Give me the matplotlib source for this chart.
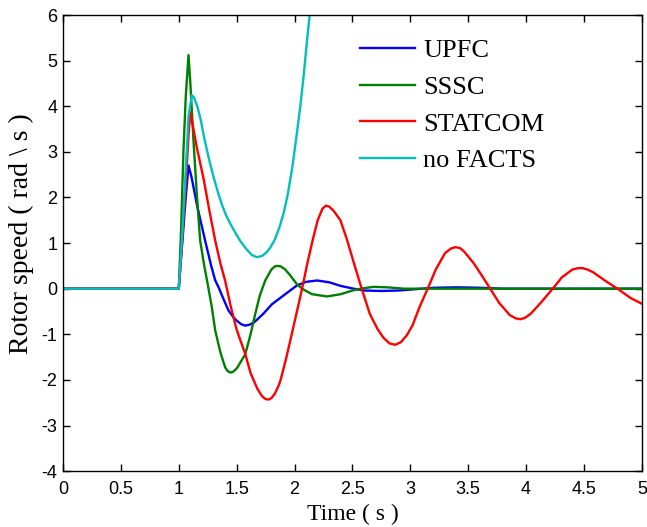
import matplotlib
matplotlib.use('Agg')
import matplotlib.pyplot as plt

plt.rcParams['axes.unicode_minus'] = False

# Rotor speed response
t_upfc = [0, 1.0, 1.03, 1.06, 1.084, 1.11, 1.16, 1.228, 1.28, 1.315, 1.344, 1.39,
          1.43, 1.47, 1.5, 1.54, 1.574, 1.61, 1.65, 1.73, 1.805, 1.92, 2.02, 2.1,
          2.195, 2.3, 2.4, 2.51, 2.6, 2.75, 2.9, 3.05, 3.2, 3.4, 3.6, 3.8, 5.0]
w_upfc = [0, 0, 1.0, 2.0, 2.70, 2.45, 1.8, 1.05, 0.5, 0.18, 0.03, -0.25,
          -0.48, -0.62, -0.70, -0.78, -0.81, -0.79, -0.74, -0.55, -0.34, -0.12, 0.07, 0.15,
          0.18, 0.14, 0.06, 0.0, -0.04, -0.05, -0.04, -0.01, 0.02, 0.03, 0.02, 0.0, 0.0]

t_sssc = [0, 1.0, 1.02, 1.04, 1.06, 1.084, 1.10, 1.127, 1.155, 1.185, 1.22, 1.25,
          1.285, 1.315, 1.36, 1.40, 1.42, 1.445, 1.47, 1.50, 1.574, 1.62, 1.66, 1.70,
          1.747, 1.80, 1.83, 1.85, 1.88, 1.92, 1.96, 2.02, 2.065, 2.15, 2.28, 2.40,
          2.50, 2.57, 2.68, 2.8, 2.95, 5.0]
w_sssc = [0, 0, 1.3, 3.0, 4.2, 5.12, 4.5, 3.25, 2.1, 1.05, 0.5, 0.1,
          -0.4, -0.92, -1.4, -1.72, -1.8, -1.84, -1.82, -1.75, -1.44, -1.0, -0.56, -0.15,
          0.18, 0.42, 0.49, 0.50, 0.49, 0.42, 0.30, 0.1, 0.0, -0.12, -0.17, -0.12,
          -0.04, 0.0, 0.04, 0.03, 0.0, 0.0]

t_statcom = [0, 1.0, 1.03, 1.06, 1.085, 1.10, 1.157, 1.215, 1.265, 1.315, 1.36, 1.40,
             1.45, 1.50, 1.574, 1.62, 1.68, 1.72, 1.75, 1.776, 1.80, 1.83, 1.86, 1.88,
             1.93, 1.98, 2.025, 2.065, 2.11, 2.16, 2.20, 2.24, 2.27, 2.30, 2.34, 2.396,
             2.45, 2.52, 2.58, 2.65, 2.72, 2.77, 2.82, 2.87, 2.92, 2.97, 3.02, 3.08,
             3.15, 3.22, 3.30, 3.35, 3.39, 3.43, 3.47, 3.55, 3.62, 3.69, 3.77, 3.86,
             3.91, 3.95, 3.99, 4.04, 4.13, 4.23, 4.31, 4.40, 4.45, 4.49, 4.53, 4.58,
             4.68, 4.79, 4.90, 5.0]
w_statcom = [0, 0, 1.1, 2.3, 3.4, 3.87, 3.08, 2.4, 1.7, 1.05, 0.55, 0.18,
             -0.4, -0.9, -1.43, -1.85, -2.2, -2.36, -2.42, -2.43, -2.4, -2.3, -2.14, -2.0,
             -1.5, -0.95, -0.45, 0.0, 0.55, 1.1, 1.5, 1.75, 1.82, 1.8, 1.7, 1.5,
             1.1, 0.5, 0.0, -0.55, -0.9, -1.08, -1.2, -1.23, -1.17, -1.02, -0.8, -0.4,
             0.0, 0.42, 0.78, 0.88, 0.91, 0.89, 0.8, 0.55, 0.28, 0.0, -0.32, -0.58,
             -0.65, -0.67, -0.64, -0.55, -0.3, 0.0, 0.25, 0.42, 0.45, 0.45, 0.42, 0.36,
             0.18, 0.0, -0.2, -0.33]

t_nofacts = [0, 1.0, 1.03, 1.06, 1.085, 1.113, 1.13, 1.16, 1.19, 1.22, 1.26, 1.30,
             1.34, 1.373, 1.41, 1.45, 1.49, 1.53, 1.58, 1.63, 1.675, 1.72, 1.76, 1.79,
             1.83, 1.87, 1.905, 1.94, 1.98, 2.02, 2.05, 2.08, 2.11, 2.135]
w_nofacts = [0, 0, 1.2, 2.6, 3.8, 4.24, 4.2, 4.0, 3.7, 3.3, 2.85, 2.45,
             2.1, 1.84, 1.6, 1.4, 1.22, 1.05, 0.88, 0.74, 0.69, 0.72, 0.8, 0.9,
             1.08, 1.35, 1.65, 2.05, 2.65, 3.4, 4.0, 4.7, 5.5, 6.1]

fig = plt.figure(figsize=(6.47, 5.27), dpi=100)
ax = fig.add_axes([0.0974, 0.106, 0.8946, 0.8655])

lw = 1.7
ax.plot(t_upfc, w_upfc, color='blue', lw=lw, label='UPFC')
ax.plot(t_sssc, w_sssc, color='green', lw=lw, label='SSSC')
ax.plot(t_statcom, w_statcom, color='red', lw=lw, label='STATCOM')
ax.plot(t_nofacts, w_nofacts, color='c', lw=lw, label='no FACTS')

ax.set_xlim(0, 5)
ax.set_ylim(-4, 6)
ax.set_xticks([0, 0.5, 1, 1.5, 2, 2.5, 3, 3.5, 4, 4.5, 5])
ax.set_xticklabels(['0', '0.5', '1', '1.5', '2', '2.5', '3', '3.5', '4', '4.5', '5'])
ax.set_yticks(range(-4, 7))
ax.tick_params(direction='in', top=True, right=True, length=5, width=1,
               labelsize=13, pad=4)
ax.tick_params(axis='x', pad=7)
for lab in ax.get_xticklabels() + ax.get_yticklabels():
    lab.set_fontfamily('Liberation Sans')
for sp in ax.spines.values():
    sp.set_linewidth(1.0)

ax.set_xlabel('Time ( s )', fontsize=17, family='Liberation Serif', labelpad=4)
ax.set_ylabel('Rotor speed ( rad \\ s )', fontsize=20, family='Liberation Serif')
ax.yaxis.set_label_coords(-0.05, 0.52)

ax.legend(loc='upper left', bbox_to_anchor=(0.513, 0.948), frameon=False,
          prop={'family': 'Liberation Serif', 'size': 19},
          handlelength=2.1, handletextpad=0.3, labelspacing=0.5,
          borderpad=0, borderaxespad=0)

fig.savefig('out.png', dpi=100)
